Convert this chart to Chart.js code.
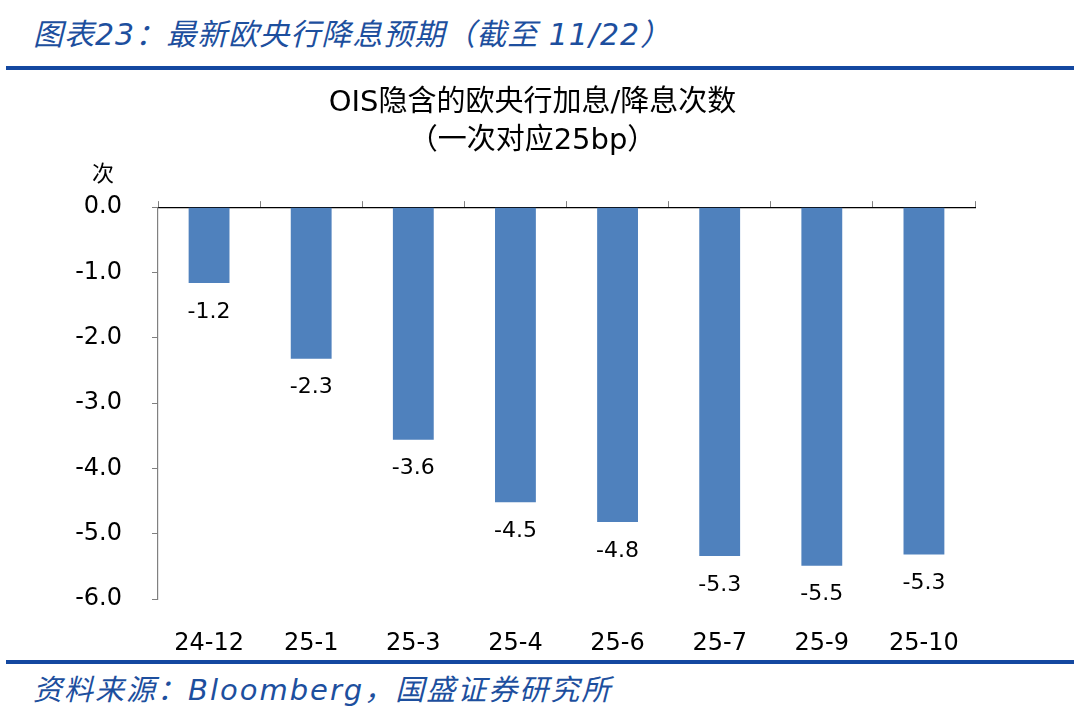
<!DOCTYPE html>
<html>
<head>
<meta charset="utf-8">
<script src="https://cdn.jsdelivr.net/npm/chart.js@4"></script>
<style>
  html,body{margin:0;padding:0;background:#fff;}
  body{width:1080px;height:718px;position:relative;overflow:hidden;font-family:"DejaVu Sans","Noto Sans CJK SC",sans-serif;}
  .hd{position:absolute;left:33px;top:10px;font-size:30px;letter-spacing:1px;font-style:italic;color:#1d4f9e;white-space:nowrap;}
  .rule{position:absolute;left:6px;width:1068px;height:4px;background:#1448a0;}
  .ft{position:absolute;left:33px;top:666px;font-size:29px;letter-spacing:2px;font-style:italic;color:#1d4f9e;white-space:nowrap;}
  #box{position:absolute;left:60px;top:77px;width:945px;height:580px;}
</style>
</head>
<body>
<div class="hd">图表23：最新欧央行降息预期（截至 11/22）</div>
<div class="rule" style="top:66px"></div>
<div id="box"><canvas id="c"></canvas></div>
<div class="rule" style="top:660px"></div>
<div class="ft">资料来源：Bloomberg，国盛证券研究所</div>
<script>
// 类别与数值
const months = ['24-12','25-1','25-3','25-4','25-6','25-7','25-9','25-10'];
const hikes = [-1.16,-2.32,-3.56,-4.52,-4.82,-5.34,-5.49,-5.32];
const yTicks = [0,-1,-2,-3,-4,-5,-6];
const unitLabel = '次';

const FONT = '"DejaVu Sans","Noto Sans CJK SC",sans-serif';

// 柱下方数值 + 单位
const labelsPlugin = {
  id:'labelsPlugin',
  afterDatasetsDraw(chart){
    const ctx = chart.ctx;
    const meta = chart.getDatasetMeta(0);
    ctx.save();
    ctx.fillStyle = '#000';
    ctx.font = '22px '+FONT;
    ctx.textAlign = 'center'; ctx.textBaseline = 'middle';
    meta.data.forEach((bar,i)=>{
      ctx.fillText(hikes[i].toFixed(1), bar.x, bar.y + 29);
    });
    ctx.font = '22px "Noto Sans CJK SC",sans-serif';
    ctx.fillText(unitLabel, chart.chartArea.left - 55, chart.chartArea.top - 34);
    ctx.restore();
  }
};

new Chart(document.getElementById('c'), {
  type:'bar',
  data:{ labels:months, datasets:[{ data:hikes, backgroundColor:'#4f81bd', barPercentage:0.4, categoryPercentage:1 }] },
  options:{
    responsive:true, maintainAspectRatio:false, animation:false,
    layout:{ padding:0 },
    plugins:{
      legend:{display:false}, tooltip:{enabled:false},
      title:{ display:true, text:['OIS隐含的欧央行加息/降息次数','（一次对应25bp）'], color:'#000',
        font:{ family:FONT, size:29, weight:'normal', lineHeight:1.33 }, padding:{top:7,bottom:0} }
    },
    scales:{
      x:{ position:'bottom', grid:{display:false}, border:{display:false},
        ticks:{ color:'#000', font:{family:FONT,size:24}, padding:22, maxRotation:0 },
        afterFit(s){ s.height = 58; } },
      x2:{ type:'category', labels:months, position:'top', offset:true,
        grid:{ drawOnChartArea:false, drawTicks:true, tickLength:6, color:'#808080', offset:true },
        border:{ display:true, color:'#000', width:1.2 },
        ticks:{ display:false },
        afterFit(s){ s.height = 46; } },
      y:{ position:'left', min:-6, max:0,
        afterBuildTicks(s){ s.ticks = yTicks.map(v=>({value:v})); },
        grid:{ drawOnChartArea:false, drawTicks:true, tickLength:6, color:'#808080' },
        border:{ display:true, color:'#808080', width:1.2 },
        ticks:{ color:'#000', font:{family:FONT,size:24}, padding:30, callback:v=>Number(v).toFixed(1) },
        afterFit(s){ s.width = 98; } },
      yR:{ position:'right', min:-6, max:0, grid:{display:false}, border:{display:false}, ticks:{display:false},
        afterFit(s){ s.width = 30; } }
    }
  },
  plugins:[labelsPlugin]
});
</script>
</body>
</html>
